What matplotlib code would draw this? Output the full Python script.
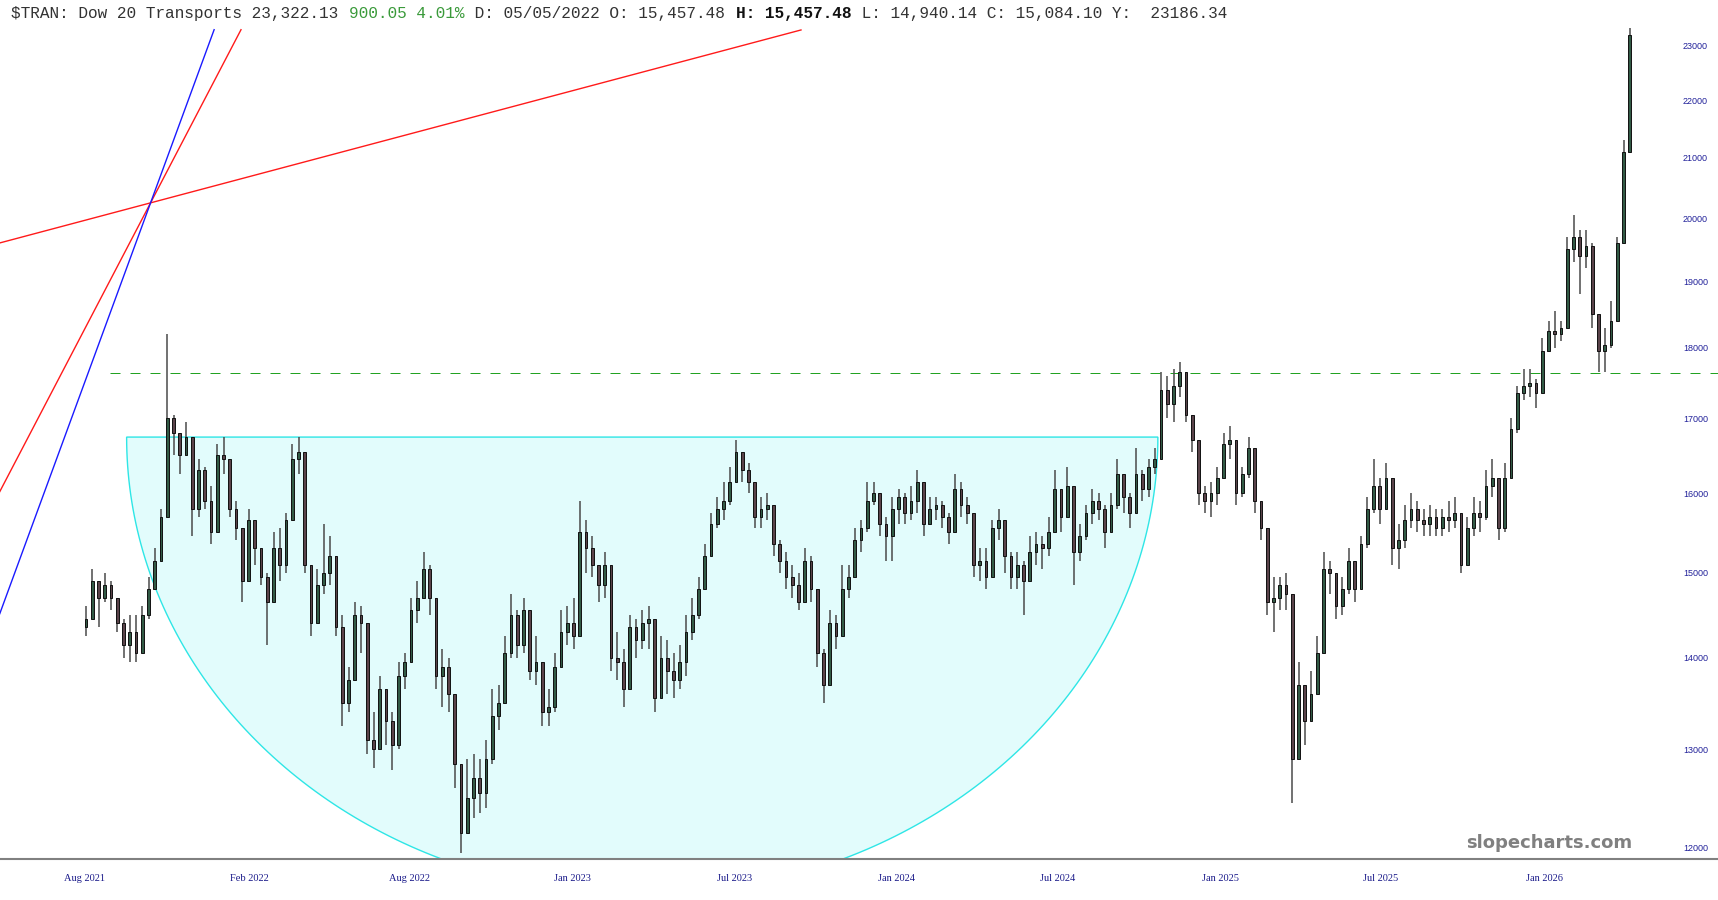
import numpy as np
import matplotlib
matplotlib.use("Agg")
import matplotlib.pyplot as plt
from matplotlib.ticker import NullLocator

# weekly bars of $TRAN (close / high / low)
closes = [14450, 14900, 14700, 14850, 14700, 14400, 14150, 14300, 14050, 14500,
          14800, 15150, 15700, 17000, 16800, 16500, 16750, 15800, 16300, 15900,
          15500, 16500, 16450, 15800, 15550, 14900, 15650, 15300, 14950, 14650,
          15300, 15100, 15650, 16450, 16550, 15100, 14400, 14850, 15000, 15200,
          14350, 13500, 13750, 14500, 14400, 13100, 13000, 13650, 13300, 13050,
          13800, 13950, 14550, 14700, 15050, 14700, 13800, 13900, 13600, 12850,
          12150, 12500, 12700, 12550, 12900, 13350, 13500, 14050, 14500, 14150,
          14550, 13850, 13950, 13400, 13450, 13900, 14300, 14400, 14250, 15500,
          15300, 15100, 14850, 15100, 14000, 13950, 13650, 14350, 14200, 14400,
          14450, 13550, 14000, 13850, 13750, 13950, 14300, 14500, 14800, 15200,
          15600, 15800, 15900, 16150, 16550, 16300, 16150, 15700, 15800, 15850,
          15350, 15150, 14950, 14850, 14650, 15150, 14800, 14050, 13700, 14400,
          14250, 14800, 14950, 15400, 15550, 15900, 16000, 15600, 15450, 15800,
          15950, 15750, 15900, 16150, 15600, 15800, 15850, 15700, 15500, 16050,
          15850, 15750, 15100, 15150, 14950, 15550, 15650, 15200, 14950, 15100,
          14900, 15250, 15350, 15300, 15500, 16050, 15700, 16100, 15250, 15450,
          15750, 15900, 15800, 15500, 15850, 16250, 15950, 15750, 16250, 16050,
          16350, 16450, 17400, 17200, 17450, 17650, 17050, 16700, 16000, 15900,
          16000, 16200, 16650, 16700, 16000, 16250, 16600, 15900, 15550, 14650,
          14700, 14850, 14750, 12900, 13700, 13300, 13600, 14050, 15050, 15000,
          14600, 14800, 15150, 14800, 15350, 15800, 16100, 15800, 16200, 15300,
          15400, 15650, 15800, 15650, 15600, 15700, 15550, 15700, 15650, 15750,
          15100, 15550, 15750, 15700, 16100, 16200, 15550, 16200, 16850, 17350,
          17450, 17500, 17350, 17950, 18250, 18200, 18300, 19500, 19700, 19400,
          19550, 18500, 17950, 18050, 18400, 19600, 21100, 23200]
highs = [14600, 15050, 14900, 15000, 14900, 14700, 14450, 14500, 14500, 14600,
         14950, 15300, 15800, 18200, 17050, 16800, 16950, 16700, 16450, 16350,
         16100, 16650, 16750, 16300, 15900, 15400, 15800, 15650, 15300, 15000,
         15500, 15550, 15750, 16650, 16750, 16300, 14900, 15050, 15600, 15450,
         15000, 14500, 13900, 14650, 14600, 14100, 13400, 13800, 13650, 13400,
         13950, 14050, 14700, 14900, 15250, 15100, 14600, 14100, 14000, 13100,
         12600, 12900, 12950, 12900, 13100, 13650, 13700, 14250, 14750, 14550,
         14700, 14400, 14250, 13900, 13650, 14050, 14550, 14600, 14700, 15900,
         15650, 15450, 15100, 15250, 14900, 14300, 14100, 14500, 14450, 14550,
         14600, 14300, 14250, 14200, 14050, 14150, 14500, 14700, 14950, 15350,
         15750, 15950, 16150, 16350, 16700, 16550, 16400, 16100, 15950, 16000,
         15750, 15400, 15250, 15100, 15000, 15300, 15200, 14650, 14100, 14550,
         14500, 15100, 15100, 15550, 15650, 16150, 16150, 15950, 15700, 15950,
         16050, 16000, 16100, 16300, 15950, 15950, 15950, 15900, 15750, 16250,
         16150, 15950, 15650, 15300, 15300, 15650, 15800, 15550, 15250, 15250,
         15150, 15450, 15500, 15450, 15700, 16300, 16050, 16350, 15900, 15600,
         15850, 16050, 16000, 15850, 16000, 16450, 16250, 16000, 16600, 16300,
         16450, 16600, 17650, 17600, 17700, 17800, 17500, 17050, 16550, 16100,
         16150, 16350, 16800, 16900, 16550, 16350, 16750, 16450, 15900, 15300,
         14950, 14950, 15000, 14450, 13950, 13600, 13850, 14250, 15250, 15150,
         15000, 14950, 15300, 15100, 15450, 15950, 16450, 16200, 16400, 16200,
         15600, 15850, 16000, 15900, 15800, 15850, 15800, 15800, 15900, 15950,
         15700, 15700, 15950, 15900, 16300, 16450, 16100, 16400, 17000, 17450,
         17700, 17700, 17550, 18150, 18400, 18550, 18400, 19700, 20050, 19800,
         19800, 19600, 18500, 18300, 18700, 19700, 21300, 23330]
lows = [14250, 14450, 14350, 14650, 14550, 14300, 14000, 13950, 13950, 14050,
        14450, 14900, 15300, 15800, 16500, 16250, 16500, 15450, 15700, 15800,
        15350, 16100, 16250, 15700, 15400, 14650, 14900, 15100, 14850, 14150,
        14700, 14900, 15000, 16100, 16250, 15000, 14250, 14500, 14750, 14850,
        14250, 13250, 13400, 13900, 14050, 12950, 12800, 13100, 13050, 12780,
        13000, 13650, 14000, 14400, 14700, 14500, 13650, 13450, 13400, 12600,
        11950, 12150, 12300, 12350, 12400, 12850, 13200, 13500, 14000, 14000,
        14050, 13750, 13700, 13250, 13250, 13400, 13900, 14150, 14100, 14300,
        15000, 14950, 14650, 14700, 13850, 13750, 13450, 13750, 14000, 14100,
        14100, 13400, 13750, 13600, 13550, 13650, 13800, 14200, 14450, 14800,
        15250, 15550, 15650, 15850, 16200, 16150, 16000, 15550, 15550, 15650,
        15200, 15000, 14800, 14700, 14550, 14700, 14650, 13900, 13500, 14100,
        14100, 14400, 14700, 14950, 15250, 15500, 15850, 15450, 15150, 15150,
        15600, 15600, 15650, 15750, 15450, 15600, 15650, 15550, 15350, 15500,
        15700, 15600, 14950, 14900, 14800, 14950, 15400, 15000, 14800, 14800,
        14500, 14900, 15100, 15050, 15200, 15700, 15500, 15700, 14850, 15150,
        15400, 15600, 15650, 15300, 15500, 15800, 15750, 15550, 15800, 15900,
        15950, 16250, 16550, 17000, 16950, 17300, 16950, 16550, 15850, 15750,
        15700, 15850, 16300, 16450, 15850, 15950, 16200, 15750, 15400, 14500,
        14300, 14550, 14550, 12450, 13100, 13050, 13300, 13600, 14150, 14750,
        14450, 14500, 14750, 14650, 14800, 15300, 15750, 15600, 15800, 15100,
        15050, 15300, 15550, 15500, 15450, 15450, 15450, 15450, 15500, 15550,
        15000, 15100, 15450, 15500, 15650, 15950, 15400, 15500, 16200, 16800,
        17250, 17300, 17150, 17400, 17950, 18000, 18100, 18350, 19300, 18800,
        19200, 18300, 17650, 17650, 18000, 18400, 19600, 21100]
first_open = 14350

y_ticks = [12000, 13000, 14000, 15000, 16000, 17000, 18000, 19000, 20000, 21000, 22000, 23000]
x_tick_pos = [-0.2, 26.1, 51.8, 77.9, 103.8, 129.6, 155.5, 181.6, 207.2, 233.3]
x_tick_labels = ["Aug 2021", "Feb 2022", "Aug 2022", "Jan 2023", "Jul 2023",
                 "Jan 2024", "Jul 2024", "Jan 2025", "Jul 2025", "Jan 2026"]

# drawn objects: cup (left bar, right bar, rim price, bottom price), lines ((x0, x1), (p0, p1))
cup = (6.5, 171.5, 16745, 11550)
resistance = 17640
red_long = ((-13.8, 114.4), (19600, 23295))
red_steep = ((-13.8, 24.8), (16020, 23300))
blue_line = ((-13.8, 20.5), (14510, 23300))

fig = plt.figure(figsize=(17.18, 9.0), dpi=100)
ax = fig.add_axes([0, 41 / 900, 1, 834 / 900])
ax.set_yscale("log")
ax.set_ylim(11893, 23389)
ax.set_xlim(-13.76, 261.12)

# cup shape: straight rim + half ellipse (in log price)
cx = (cup[0] + cup[1]) / 2
a = (cup[1] - cup[0]) / 2
top, bot = np.log(cup[2]), np.log(cup[3])
t = np.linspace(np.pi, 2 * np.pi, 200)
ax.fill(cx + a * np.cos(t), np.exp(top + (top - bot) * np.sin(t)),
        facecolor="#e2fcfc", edgecolor="#2ee6e6", lw=1.0, zorder=1)

ax.plot([3.8, 262], [resistance, resistance], color="#22a222", lw=0.72,
        ls=(0, (10, 10)), zorder=2)
ax.plot(*red_long, color="#ff1a1a", lw=1.0, zorder=2)
ax.plot(*red_steep, color="#ff1a1a", lw=1.0, zorder=2)
ax.plot(*blue_line, color="#1a1aff", lw=1.0, zorder=2)

# candles
c = np.array(closes, float)
o = np.r_[first_open, c[:-1]]
h = np.maximum(np.array(highs, float), np.maximum(o, c))
l = np.minimum(np.array(lows, float), np.minimum(o, c))
x = np.arange(len(c))
up = c >= o
ax.vlines(x, l, h, color="#4a4a4a", lw=1.1, zorder=3)
ax.bar(x[up], (c - o)[up], bottom=o[up], width=0.45, color="#325a45",
       edgecolor="#111111", lw=0.7, zorder=4)
ax.bar(x[~up], (o - c)[~up], bottom=c[~up], width=0.45, color="#5a434a",
       edgecolor="#111111", lw=0.7, zorder=4)

# axes look
for s in ["top", "left", "right"]:
    ax.spines[s].set_visible(False)
ax.spines["bottom"].set_color("#808080")
ax.spines["bottom"].set_linewidth(1.5)
ax.yaxis.tick_right()
ax.set_yticks(y_ticks)
ax.set_yticklabels([str(v) for v in y_ticks])
ax.yaxis.set_minor_locator(NullLocator())
ax.tick_params(axis="y", length=0, pad=-25.2, labelsize=6.5, labelcolor="#22229a")
for lab in ax.get_yticklabels():
    lab.set_family("Liberation Sans")
ax.set_xticks(x_tick_pos)
ax.set_xticklabels(x_tick_labels)
ax.tick_params(axis="x", length=0, pad=11, labelsize=7.5, labelcolor="#1a1a8a")
for lab in ax.get_xticklabels():
    lab.set_family("Liberation Serif")

# header line, monospace so pieces can be placed by character count
cw = 9.67
pieces = [("$TRAN: Dow 20 Transports 23,322.13 ", "#333333", "normal"),
          ("900.05 4.01%", "#3a9a3a", "normal"),
          (" D: 05/05/2022 O: 15,457.48 ", "#333333", "normal"),
          ("H: 15,457.48", "#111111", "bold"),
          (" L: 14,940.14 C: 15,084.10 Y:  23186.34", "#333333", "normal")]
n = 0
for txt, col, w in pieces:
    fig.text((11 + n * cw) / 1718, 1 - 13.5 / 900, txt, color=col, fontweight=w,
             family="Liberation Mono", fontsize=11.6, va="center", ha="left")
    n += len(txt)

fig.text(1632 / 1718, 1 - 843 / 900, "slopecharts.com", ha="right", va="center",
         fontsize=13, fontweight="bold", color="#808080", family="DejaVu Sans")

fig.savefig("out.png", dpi=100)
